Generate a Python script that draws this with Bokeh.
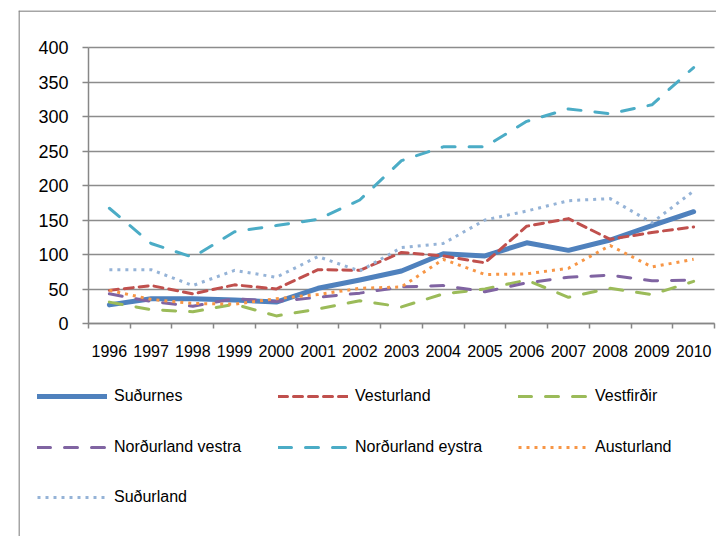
from bokeh.plotting import figure
from bokeh.models import FixedTicker, Legend, LegendItem, Range1d, LinearAxis, Grid, Span
from bokeh.embed import file_html
from bokeh.resources import INLINE

years = [1996, 1997, 1998, 1999, 2000, 2001, 2002, 2003, 2004, 2005, 2006, 2007, 2008, 2009, 2010]
year_labels = [str(y) for y in years]

sudurnes = [27, 36, 36, 34, 31, 51, 63, 76, 101, 98, 117, 106, 121, 142, 162]
vesturland = [48, 55, 43, 56, 50, 78, 77, 103, 98, 88, 141, 152, 122, 132, 140]
vestfirdir = [31, 20, 17, 28, 11, 21, 33, 24, 43, 50, 63, 38, 51, 42, 61]
nordurland_vestra = [43, 32, 25, 36, 32, 38, 44, 53, 55, 46, 59, 67, 70, 62, 63]
nordurland_eystra = [167, 116, 96, 133, 142, 151, 179, 236, 256, 256, 293, 311, 304, 317, 371]
austurland = [48, 35, 29, 28, 36, 42, 51, 53, 93, 71, 72, 80, 113, 82, 93]
sudurland = [78, 78, 55, 77, 67, 97, 76, 110, 116, 150, 163, 178, 181, 146, 192]

y_ticks = [0, 50, 100, 150, 200, 250, 300, 350, 400]

series = [
    ("Suðurnes", sudurnes, "#4F81BD", 5, None, "round"),
    ("Vesturland", vesturland, "#C0504D", 3, "9 6", "round"),
    ("Vestfirðir", vestfirdir, "#9BBB59", 3, "13 14", "round"),
    ("Norðurland vestra", nordurland_vestra, "#8064A2", 3, "13 14", "round"),
    ("Norðurland eystra", nordurland_eystra, "#4BACC6", 3, "13 14", "round"),
    ("Austurland", austurland, "#F79646", 3, "3 5", "butt"),
    ("Suðurland", sudurland, "#95B3D7", 3, "3 5", "butt"),
]

FONT = "Liberation Sans"
GREY = "#878787"

# layout in picture pixels (figure drawn from the picture's top-left corner)
FIG_W, FIG_H = 716, 536
FR_L, FR_T, FR_R, FR_B = 18, 10, 716, 536        # frame (chart border box)
PA_L, PA_T, PA_R, PA_B = 88, 47, 714, 323        # plot area

x_lo, x_hi = years[0] - 0.5, years[-1] + 0.5
y_lo, y_hi = y_ticks[0], y_ticks[-1]
xs = (PA_R - PA_L) / (x_hi - x_lo)
ys = (PA_B - PA_T) / (y_hi - y_lo)
x_range = Range1d(x_lo - (PA_L - FR_L) / xs, x_hi + (FR_R - PA_R) / xs)
y_range = Range1d(y_lo - (FR_B - PA_B) / ys, y_hi + (PA_T - FR_T) / ys)

p = figure(width=FIG_W, height=FIG_H, output_backend="svg", toolbar_location=None,
           x_range=x_range, y_range=y_range,
           x_axis_location=None, y_axis_location=None,
           min_border_left=FR_L, min_border_top=FR_T,
           min_border_right=FIG_W - FR_R, min_border_bottom=FIG_H - FR_B)
p.outline_line_color = None
p.background_fill_color = "white"
p.border_fill_color = "white"
p.xgrid.visible = False
p.ygrid.visible = False

# x axis
xaxis = LinearAxis(fixed_location=y_lo, bounds=(x_lo, x_hi))
xaxis.ticker = FixedTicker(ticks=years, minor_ticks=[y - 0.5 for y in years] + [x_hi])
xaxis.major_label_overrides = {y: l for y, l in zip(years, year_labels)}
xaxis.major_tick_out = 0
xaxis.major_tick_in = 0
xaxis.minor_tick_out = 5
xaxis.minor_tick_in = 0
xaxis.minor_tick_line_color = GREY
xaxis.minor_tick_line_width = 1.5
xaxis.axis_line_color = GREY
xaxis.axis_line_width = 1.5
xaxis.major_label_standoff = 16
xaxis.major_label_text_font = FONT
xaxis.major_label_text_font_size = "16px"
xaxis.major_label_text_color = "black"
p.add_layout(xaxis, "below")

# y axis
yaxis = LinearAxis(fixed_location=x_lo, bounds=(y_lo, y_hi))
yaxis.ticker = FixedTicker(ticks=y_ticks)
yaxis.major_tick_out = 6
yaxis.major_tick_in = 0
yaxis.minor_tick_line_color = None
yaxis.major_tick_line_color = GREY
yaxis.major_tick_line_width = 1.5
yaxis.axis_line_color = GREY
yaxis.axis_line_width = 1.5
yaxis.major_label_standoff = 14
yaxis.major_label_text_font = FONT
yaxis.major_label_text_font_size = "18px"
yaxis.major_label_text_color = "black"
p.add_layout(yaxis, "left")

grid = Grid(dimension=1, ticker=FixedTicker(ticks=y_ticks), cross_bounds=(x_lo, x_hi),
            grid_line_color="#8c8c8c", grid_line_width=1.5)
p.add_layout(grid)

# chart border (left and top edges)
p.add_layout(Span(location=0.5, location_units="screen", dimension="height",
                  line_color=GREY, line_width=1.5))
p.add_layout(Span(location=FR_B - FR_T - 0.5, location_units="screen", dimension="width",
                  line_color=GREY, line_width=1.5))

renderers = []
for name, vals, color, w, dash, cap in series:
    kw = dict(line_color=color, line_width=w, line_cap=cap, line_join="round")
    if dash:
        kw["line_dash"] = dash
    r = p.line(years, vals, **kw)
    renderers.append((name, r))

# legends: 3 columns x 3 rows (picture pixel anchors)
col_x = [37, 278, 518]
row_cy = [396, 447, 497]
LH = 20
for i, (name, r) in enumerate(renderers):
    lx = col_x[i % 3] - FR_L
    ly = FR_B - (row_cy[i // 3] + LH / 2)
    lg = Legend(items=[LegendItem(label=name, renderers=[r])],
                location=(lx, ly),
                glyph_width=70, glyph_height=LH, label_height=LH,
                label_standoff=7, padding=0, margin=0, spacing=0,
                border_line_color=None, background_fill_alpha=0,
                label_text_font=FONT, label_text_font_size="16px",
                label_text_color="black")
    p.add_layout(lg, "center")

open("out.html", "w").write(file_html(p, INLINE))
